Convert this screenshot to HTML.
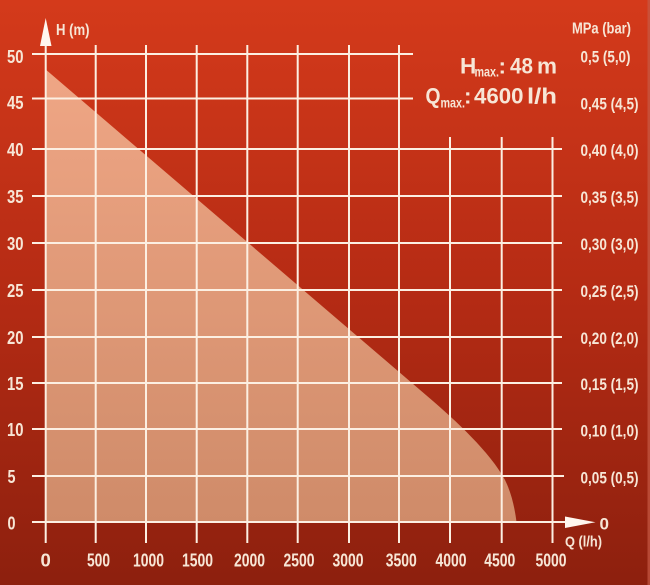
<!DOCTYPE html>
<html>
<head>
<meta charset="utf-8">
<style>
html,body{margin:0;padding:0;background:#a82614;}
svg{display:block;}
text{font-family:"Liberation Sans Narrow","Liberation Sans",sans-serif;font-weight:bold;fill:#f7e6d6;}
</style>
</head>
<body>
<svg width="650" height="585" viewBox="0 0 650 585" xmlns="http://www.w3.org/2000/svg">
<defs>
<linearGradient id="bg" x1="0" y1="0" x2="0" y2="1">
<stop offset="0" stop-color="#d43a1b"/>
<stop offset="0.5" stop-color="#b52b14"/>
<stop offset="1" stop-color="#8d200e"/>
</linearGradient>
<linearGradient id="fill" x1="0" y1="69" x2="0" y2="522" gradientUnits="userSpaceOnUse">
<stop offset="0" stop-color="#efa685"/>
<stop offset="1" stop-color="#cf8b69"/>
</linearGradient>
</defs>
<rect x="0" y="0" width="650" height="585" fill="url(#bg)"/>
<rect x="647.5" y="0" width="2.5" height="585" fill="#c65a45" opacity="0.7"/>

<path d="M45.7,69.5 L430,398.5 C455,420 490,452 505,480 C512,494 515,510 516.5,522 L45.7,522 Z" fill="url(#fill)"/>

<g stroke="#fcefe2" stroke-width="2" fill="none">
<line x1="32" y1="54" x2="413" y2="54"/>
<line x1="32" y1="98.5" x2="413" y2="98.5"/>
<line x1="32" y1="149" x2="562" y2="149"/>
<line x1="32" y1="196" x2="562" y2="196"/>
<line x1="32" y1="243" x2="562" y2="243"/>
<line x1="32" y1="290" x2="562" y2="290"/>
<line x1="32" y1="337" x2="562" y2="337"/>
<line x1="32" y1="383" x2="562" y2="383"/>
<line x1="32" y1="429" x2="562" y2="429"/>
<line x1="32" y1="476" x2="564" y2="476"/>
<line x1="32" y1="522" x2="568" y2="522"/>
<line x1="45.7" y1="40" x2="45.7" y2="543"/>
<line x1="95.7" y1="45" x2="95.7" y2="543"/>
<line x1="146" y1="45" x2="146" y2="543"/>
<line x1="196.7" y1="45" x2="196.7" y2="543"/>
<line x1="247.3" y1="45" x2="247.3" y2="543"/>
<line x1="297.7" y1="45" x2="297.7" y2="543"/>
<line x1="349" y1="45" x2="349" y2="543"/>
<line x1="399" y1="45" x2="399" y2="543"/>
<line x1="450" y1="137" x2="450" y2="543"/>
<line x1="501.7" y1="137" x2="501.7" y2="543"/>
<line x1="552.5" y1="137" x2="552.5" y2="543"/>
</g>

<polygon points="45.7,18 40,46 51.5,46" fill="#fff6ee"/>
<polygon points="565,516.5 595.5,522.3 565,528" fill="#fff6ee"/>

<text x="56" y="35" font-size="15.5" textLength="33.5" lengthAdjust="spacingAndGlyphs">H (m)</text>
<text x="572" y="33.5" font-size="15.5" textLength="59" lengthAdjust="spacingAndGlyphs">MPa (bar)</text>
<text x="565" y="546.7" font-size="15" textLength="37" lengthAdjust="spacingAndGlyphs">Q (l/h)</text>
<text x="599.5" y="529.5" font-size="17">0</text>

<g font-size="18">
<text x="7" y="63" textLength="16.5" lengthAdjust="spacingAndGlyphs">50</text>
<text x="7" y="109" textLength="16.5" lengthAdjust="spacingAndGlyphs">45</text>
<text x="7" y="156" textLength="16.5" lengthAdjust="spacingAndGlyphs">40</text>
<text x="7" y="203" textLength="16.5" lengthAdjust="spacingAndGlyphs">35</text>
<text x="7" y="250" textLength="16.5" lengthAdjust="spacingAndGlyphs">30</text>
<text x="7" y="297" textLength="16.5" lengthAdjust="spacingAndGlyphs">25</text>
<text x="7" y="344" textLength="16.5" lengthAdjust="spacingAndGlyphs">20</text>
<text x="7" y="390" textLength="16.5" lengthAdjust="spacingAndGlyphs">15</text>
<text x="7" y="436" textLength="16.5" lengthAdjust="spacingAndGlyphs">10</text>
<text x="7.5" y="483" textLength="8" lengthAdjust="spacingAndGlyphs">5</text>
<text x="7.5" y="529.5" textLength="8" lengthAdjust="spacingAndGlyphs">0</text>
</g>

<g font-size="18.5" text-anchor="middle">
<text x="45.7" y="566.5">0</text>
<text x="98.5" y="566.5" textLength="23" lengthAdjust="spacingAndGlyphs">500</text>
<text x="148.5" y="566.5" textLength="31" lengthAdjust="spacingAndGlyphs">1000</text>
<text x="197.5" y="566.5" textLength="31" lengthAdjust="spacingAndGlyphs">1500</text>
<text x="249.5" y="566.5" textLength="31" lengthAdjust="spacingAndGlyphs">2000</text>
<text x="299" y="566.5" textLength="31" lengthAdjust="spacingAndGlyphs">2500</text>
<text x="348" y="566.5" textLength="31" lengthAdjust="spacingAndGlyphs">3000</text>
<text x="401.3" y="566.5" textLength="31" lengthAdjust="spacingAndGlyphs">3500</text>
<text x="451" y="566.5" textLength="31" lengthAdjust="spacingAndGlyphs">4000</text>
<text x="499.7" y="566.5" textLength="31" lengthAdjust="spacingAndGlyphs">4500</text>
<text x="551" y="566.5" textLength="31" lengthAdjust="spacingAndGlyphs">5000</text>
</g>

<g font-size="17">
<text x="580.5" y="62.7" textLength="50" lengthAdjust="spacingAndGlyphs">0,5 (5,0)</text>
<text x="580.5" y="109.3" textLength="58" lengthAdjust="spacingAndGlyphs">0,45 (4,5)</text>
<text x="580.5" y="156" textLength="58" lengthAdjust="spacingAndGlyphs">0,40 (4,0)</text>
<text x="580.5" y="203" textLength="58" lengthAdjust="spacingAndGlyphs">0,35 (3,5)</text>
<text x="580.5" y="250" textLength="58" lengthAdjust="spacingAndGlyphs">0,30 (3,0)</text>
<text x="580.5" y="297" textLength="58" lengthAdjust="spacingAndGlyphs">0,25 (2,5)</text>
<text x="580.5" y="344" textLength="58" lengthAdjust="spacingAndGlyphs">0,20 (2,0)</text>
<text x="580.5" y="390" textLength="58" lengthAdjust="spacingAndGlyphs">0,15 (1,5)</text>
<text x="580.5" y="436.7" textLength="58" lengthAdjust="spacingAndGlyphs">0,10 (1,0)</text>
<text x="580.5" y="483.3" textLength="58" lengthAdjust="spacingAndGlyphs">0,05 (0,5)</text>
</g>

<g>
<text x="460" y="73.3" font-size="22.5">H</text>
<text x="474.5" y="76.7" font-size="13.5" textLength="24.5" lengthAdjust="spacingAndGlyphs">max.</text>
<text x="498.5" y="73.3" font-size="22.5">:</text>
<text x="510" y="73.3" font-size="22.5" textLength="23" lengthAdjust="spacingAndGlyphs">48</text>
<text x="537" y="73.3" font-size="22.5" textLength="20" lengthAdjust="spacingAndGlyphs">m</text>

<text x="425.5" y="103.5" font-size="22.5" textLength="15" lengthAdjust="spacingAndGlyphs">Q</text>
<text x="440.5" y="107.5" font-size="13.5" textLength="24.5" lengthAdjust="spacingAndGlyphs">max.</text>
<text x="464" y="103.5" font-size="22.5">:</text>
<text x="474" y="103.5" font-size="22.5" textLength="49.5" lengthAdjust="spacingAndGlyphs">4600</text>
<text x="527" y="103.5" font-size="22.5" textLength="30" lengthAdjust="spacingAndGlyphs">l/h</text>
</g>
</svg>
</body>
</html>
